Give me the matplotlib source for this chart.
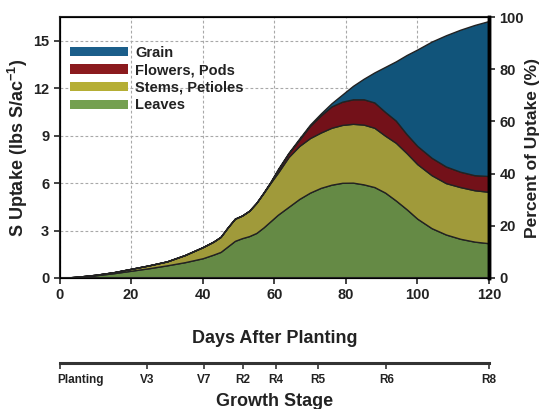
import matplotlib
matplotlib.use('Agg')
import matplotlib.pyplot as plt
import numpy as np
from matplotlib.patches import Patch

plt.rcParams['font.family'] = ['Liberation Sans', 'DejaVu Sans']
plt.rcParams['font.weight'] = 'bold'
plt.rcParams['mathtext.fontset'] = 'custom'
plt.rcParams['mathtext.rm'] = 'Liberation Sans:bold'
plt.rcParams['mathtext.default'] = 'rm'

# days after planting
days = [0, 5, 10, 15, 20, 25, 30, 35, 40, 43, 45, 47, 49, 51, 53, 55, 57, 59, 61,
        64, 67, 70, 73, 76, 79, 82, 85, 88, 91, 94, 97, 100, 104, 108, 112, 116, 120]

# S uptake per plant part (lbs S/ac)
leaves = [0, .07, .17, .30, .46, .62, .80, 1.0, 1.25, 1.48, 1.65, 2.0, 2.35, 2.52, 2.65,
          2.85, 3.2, 3.6, 4.0, 4.5, 5.0, 5.4, 5.7, 5.9, 6.02, 6.03, 5.92, 5.75, 5.4, 4.9,
          4.35, 3.75, 3.15, 2.75, 2.48, 2.3, 2.2]
stems = [0, .01, .03, .06, .12, .18, .25, .45, .70, .82, .95, 1.2, 1.4, 1.43, 1.6, 1.9,
         2.17, 2.43, 2.65, 3.15, 3.35, 3.45, 3.5, 3.6, 3.66, 3.72, 3.78, 3.75, 3.6, 3.65,
         3.55, 3.45, 3.35, 3.25, 3.27, 3.25, 3.25]
flowers = [0, 0, 0, 0, 0, 0, 0, 0, 0, 0, 0, 0, 0, 0, 0, 0, .03, .05, .18, .23, .40, .77,
           1.08, 1.35, 1.47, 1.55, 1.6, 1.6, 1.5, 1.4, 1.2, 1.15, 1.1, 1.05, .97, .95, 1.0]
grain = [0, 0, 0, 0, 0, 0, 0, 0, 0, 0, 0, 0, 0, 0, 0, 0, 0, .02, .05, .04, .07, .08, .12,
         .2, .45, .85, 1.3, 1.9, 2.85, 3.75, 5.0, 6.1, 7.35, 8.3, 8.98, 9.5, 9.8]

stage_days = [0, 24.4, 40.4, 51.2, 60.4, 72.2, 91.3, 120]
stage_labels = ['Planting', 'V3', 'V7', 'R2', 'R4', 'R5', 'R6', 'R8']

area_colors = ['#658a45', '#a09a3a', '#731119', '#11547a']
legend_colors = ['#74a050', '#b5ae35', '#8b1a1e', '#1b5e8a']
names = ['Leaves', 'Stems, Petioles', 'Flowers, Pods', 'Grain']

fig = plt.figure(figsize=(5.42, 4.09), dpi=100)
ax = fig.add_axes([0.110, 0.3203, 0.792, 0.638])

ax.stackplot(days, leaves, stems, flowers, grain, colors=area_colors,
             edgecolor='#222222', linewidth=1.0)

ax.set_xlim(0, 120)
ax.set_ylim(0, 16.5)
ax.set_xticks([0, 20, 40, 60, 80, 100, 120])
ax.set_yticks([0, 3, 6, 9, 12, 15])
ax.set_axisbelow(True)
ax.grid(True, color='#a8a8a8', linestyle=(0, (2.5, 2)), linewidth=0.8)
ax.tick_params(labelsize=10.5, width=1.2, length=4, colors='#222222')
for lab in ax.get_xticklabels() + ax.get_yticklabels():
    lab.set_fontweight('bold')
for s in ['left', 'bottom', 'top']:
    ax.spines[s].set_linewidth(1.5)
    ax.spines[s].set_color('#222222')
ax.spines['right'].set_linewidth(2.5)
ax.set_ylabel('S Uptake (lbs S/ac$^{-1}$)', fontsize=13, fontweight='bold', labelpad=2,
              color='#222222')
ax.set_xlabel('Days After Planting', fontsize=13, fontweight='bold', labelpad=20,
              color='#222222')

ax_r = ax.twinx()
ax_r.set_ylim(0, 100)
ax_r.set_yticks([0, 20, 40, 60, 80, 100])
ax_r.tick_params(labelsize=10.5, width=1.2, length=4, colors='#222222')
for lab in ax_r.get_yticklabels():
    lab.set_fontweight('bold')
ax_r.spines['right'].set_linewidth(2.5)
ax_r.set_ylabel('Percent of Uptake (%)', fontsize=12.5, fontweight='bold', labelpad=1,
                color='#222222')

handles = [Patch(facecolor=c, edgecolor='none') for c in legend_colors[::-1]]
leg = ax.legend(handles, names[::-1], loc='upper left', bbox_to_anchor=(0.0, 0.93),
                frameon=False, fontsize=10.5, handlelength=4.0, handleheight=0.6,
                labelspacing=0.25, handletextpad=0.5, borderaxespad=0.3)
for t in leg.get_texts():
    t.set_fontweight('bold')
    t.set_color('#222222')

# growth stage axis
ax2 = fig.add_axes([0.110, 0.1125 - 0.02, 0.792, 0.02])
ax2.set_xlim(0, 120)
ax2.set_yticks([])
ax2.patch.set_visible(False)
for s in ['left', 'right', 'bottom']:
    ax2.spines[s].set_visible(False)
ax2.spines['top'].set_linewidth(2.2)
ax2.spines['top'].set_color('#333333')
ax2.xaxis.set_ticks_position('top')
ax2.set_xticks(stage_days)
ax2.tick_params(axis='x', direction='in', length=4, width=1.2, colors='#333333',
                labeltop=False, labelbottom=False)
for d, lab in zip(stage_days, stage_labels):
    if lab == 'Planting':
        fig.text(0.110 - 0.004, 1 - 380 / 409, lab, ha='left', va='center',
                 fontsize=8.5, fontweight='bold', color='#222222')
    else:
        fig.text(0.110 + 0.792 * d / 120, 1 - 380 / 409, lab, ha='center', va='center',
                 fontsize=8.5, fontweight='bold', color='#222222')
fig.text(0.110 + 0.792 / 2, 1 - 401 / 409, 'Growth Stage', ha='center', va='center',
         fontsize=13, fontweight='bold', color='#222222')

fig.savefig('out.png', dpi=100)
